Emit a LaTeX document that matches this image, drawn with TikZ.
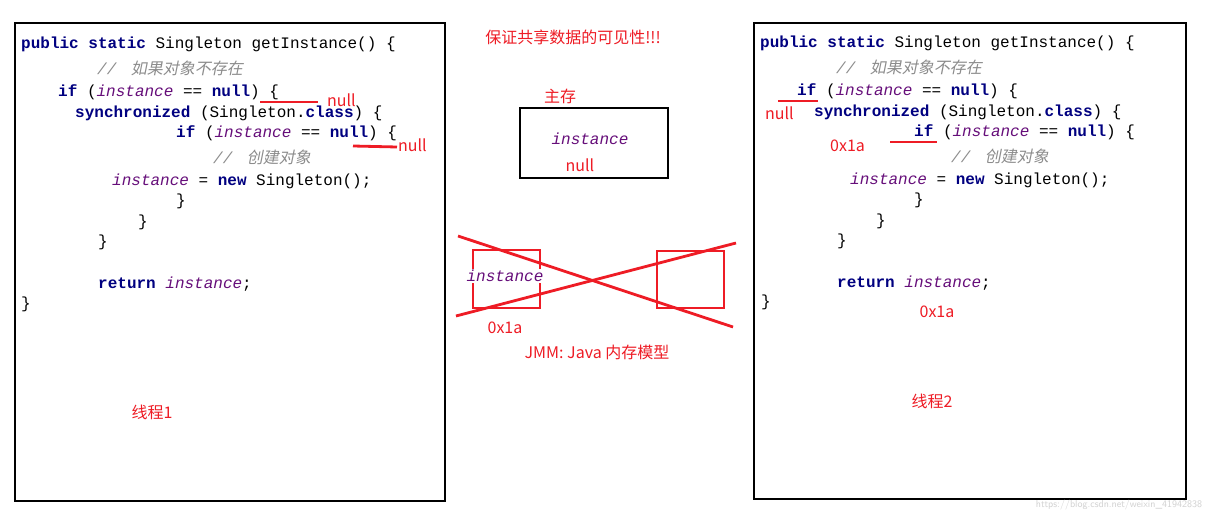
\documentclass[tikz,border=0pt]{standalone}
\usepackage{fontspec}
\setmainfont{Noto Sans CJK SC}
\setmonofont{Liberation Mono}
\newfontfamily\cjkslant[FakeSlant=0.2]{Noto Sans CJK SC}
\newfontfamily\cjkfont{Noto Sans CJK SC}
\definecolor{kwblue}{HTML}{000080}
\definecolor{ivpurple}{HTML}{660E7A}
\definecolor{cmgray}{HTML}{8C8C8C}
\definecolor{annred}{HTML}{EE1C25}
\newcommand\kw[1]{\textcolor{kwblue}{\bfseries #1}}
\newcommand\iv[1]{\textcolor{ivpurple}{\itshape #1}}
\newcommand\cm[1]{\textcolor{cmgray}{\itshape //\hspace{0.9em}{\cjkslant #1}}}
\tikzset{
  code/.style={anchor=west, inner sep=0pt, font=\ttfamily\fontsize{16}{18}\selectfont},
  ann/.style={inner sep=0pt, text=annred, font=\cjkfont\fontsize{16}{18}\selectfont},
  frame/.style={draw=black, line width=2.8pt},
  redline/.style={draw=annred, line width=2.8pt},
}
\begin{document}
\begin{tikzpicture}[x=1pt,y=-1pt]
\useasboundingbox[fill=white] (0,0) rectangle (1205,516);
% frames
\draw[frame] (15,23) rectangle (445,501);
\draw[frame] (754,23) rectangle (1186,499);
\draw[frame] (520,108) rectangle (668,178);

% left code
\node[code] (l1) at (21,44) {\kw{public} \kw{static} Singleton getInstance() \{};
\node[code] (l2) at (97,68) {\cm{如果对象不存在}};
\node[code] (l3) at (58,92) {\kw{if} (\iv{instance} == \kw{null}) \{};
\node[code] (l4) at (75,113) {\kw{synchronized} (Singleton.\kw{class}) \{};
\node[code] (l5) at (176,133) {\kw{if} (\iv{instance} == \kw{null}) \{};
\node[code] (l6) at (213,157) {\cm{创建对象}};
\node[code] (l7) at (112,181) {\iv{instance} = \kw{new} Singleton();};
\node[code] (l8) at (176,201) {\}};
\node[code] (l9) at (138,222) {\}};
\node[code] (l10) at (98,242) {\}};
\node[code] (l11) at (98,284) {\kw{return} \iv{instance};};
\node[code] (l12) at (21,304) {\}};

% right code
\node[code] (r1) at (760,43) {\kw{public} \kw{static} Singleton getInstance() \{};
\node[code] (r2) at (836,67) {\cm{如果对象不存在}};
\node[code] (r3) at (797,91) {\kw{if} (\iv{instance} == \kw{null}) \{};
\node[code] (r4) at (814,112) {\kw{synchronized} (Singleton.\kw{class}) \{};
\node[code] (r5) at (914,132) {\kw{if} (\iv{instance} == \kw{null}) \{};
\node[code] (r6) at (951,156) {\cm{创建对象}};
\node[code] (r7) at (850,180) {\iv{instance} = \kw{new} Singleton();};
\node[code] (r8) at (914,200) {\}};
\node[code] (r9) at (876,221) {\}};
\node[code] (r10) at (837,241) {\}};
\node[code] (r11) at (837,283) {\kw{return} \iv{instance};};
\node[code] (r12) at (761,302) {\}};

% left annotations
\draw[redline] (260,102) -- (318,102);
\node[ann, anchor=west] (ln1) at (327,100) {null};
\draw[redline] (353,146) -- (397,147);
\node[ann, anchor=west] (ln2) at (398,145) {null};
\node[ann] (t1) at (152,412) {线程1};

% right annotations
\draw[redline] (778,101) -- (818,101);
\node[ann, anchor=west] (rn1) at (765,113) {null};
\draw[redline] (890,142) -- (937,142);
\node[ann, anchor=west] (rx1) at (830,146) {0x1a};
\node[ann] (rx2) at (937,312) {0x1a};
\node[ann] (t2) at (932,401) {线程2};

% middle
\node[ann] (title) at (573,37) {保证共享数据的可见性!!!};
\node[ann] (zc) at (560,96) {主存};
\node[code, anchor=center] (mi) at (590,139) {\iv{instance}};
\node[ann] (mn) at (580,165) {null};

\draw[redline] (473,250) rectangle (540,308);
\draw[redline] (657,251) rectangle (724,308);
\node[code, anchor=center, fill=white, inner sep=1pt] (wi) at (505,276) {\iv{instance}};
\draw[redline] (458,236) -- (733,327);
\draw[redline] (456,316) -- (736,243);
\node[ann] (wx) at (505,328) {0x1a};
\node[ann] (jmm) at (597,352) {JMM: Java 内存模型};

% watermark
\node[inner sep=0pt, text=black!18, font=\sffamily\fontsize{10}{12}\selectfont] (wm) at (1119,505) {https://blog.csdn.net/weixin\_41942838};
\end{tikzpicture}
\end{document}
